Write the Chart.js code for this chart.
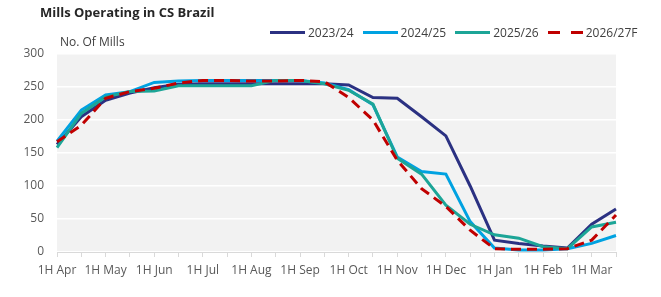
<!DOCTYPE html>
<html lang="en">

<head>
    <meta charset="UTF-8">
    <title>Mills Operating in CS Brazil</title>
    <style>
        body { margin: 0; background: #fff; font-family: "Open Sans", sans-serif; }
        #wrap { position: relative; width: 661px; height: 297px; }
        #titulo { position: absolute; left: 40px; top: 3px; font-size: 13px; font-weight: bold; color: #262626; }
        #unidad { position: absolute; left: 60px; top: 33px; font-size: 12px; color: #404040; }
        #leyenda { position: absolute; left: 270px; top: 24px; display: flex; font-size: 12px; color: #404040; }
        .item { display: flex; align-items: center; margin-right: 9px; }
        .linea { width: 35px; height: 3px; margin-right: 3px; }
    </style>
</head>

<body>
    <div id="wrap">
        <canvas id="grafico" width="661" height="297"></canvas>
        <div id="titulo">Mills Operating in CS Brazil</div>
        <div id="unidad">No. Of Mills</div>
        <div id="leyenda"></div>
    </div>

    <script src="https://cdn.jsdelivr.net/npm/chart.js"></script>
    <script>
        // quincenas: 1H / 2H de cada mes, abril a marzo
        let meses = ["Apr", "May", "Jun", "Jul", "Aug", "Sep", "Oct", "Nov", "Dec", "Jan", "Feb", "Mar"]
        let categorias = []
        meses.forEach(m => {
            categorias.push("1H " + m)
            categorias.push("2H " + m)
        })

        let zafra2324 = [163, 205, 230, 241, 249, 254, 255, 255, 255, 255, 255, 255, 253, 234, 233, 205, 176, 100, 18, 13, 9, 6, 42, 65]
        let zafra2425 = [168, 215, 238, 243, 257, 259, 260, 260, 260, 260, 260, 256, 246, 223, 144, 122, 118, 46, 6, 3, 3, 5, 13, 25]
        let zafra2526 = [158, 210, 235, 243, 244, 252, 252, 252, 252, 260, 260, 255, 245, 224, 142, 118, 71, 42, 26, 21, 8, 5, 38, 45]
        let zafra2627 = [167, 192, 233, 243, 248, 256, 260, 260, 259, 259, 260, 258, 234, 200, 139, 96, 69, 33, 5, 4, 4, 5, 18, 56]

        let ticksY = [0, 50, 100, 150, 200, 250, 300]

        let series = [
            { label: "2023/24", data: zafra2324, color: "#2b3182", dash: [], order: 4 },
            { label: "2024/25", data: zafra2425, color: "#00a2e1", dash: [], order: 3 },
            { label: "2025/26", data: zafra2526, color: "#1ca597", dash: [], order: 2 },
            { label: "2026/27F", data: zafra2627, color: "#c00000", dash: [10, 6], order: 1 }
        ]

        // leyenda en html
        let leyenda = document.querySelector("#leyenda")
        series.forEach(s => {
            let item = document.createElement("div")
            item.className = "item"
            let linea = document.createElement("span")
            linea.className = "linea"
            if (s.dash.length) {
                linea.style.background = "linear-gradient(to right, " + s.color + " 0 12px, transparent 12px 23px, " + s.color + " 23px 35px)"
            } else {
                linea.style.background = s.color
            }
            let texto = document.createElement("span")
            texto.textContent = s.label
            item.appendChild(linea)
            item.appendChild(texto)
            leyenda.appendChild(item)
        })

        let fondoGris = {
            id: "fondoGris",
            beforeDraw(chart) {
                let a = chart.chartArea
                chart.ctx.save()
                chart.ctx.fillStyle = "#f2f2f2"
                chart.ctx.fillRect(a.left, a.top, a.right - a.left, a.bottom - a.top)
                chart.ctx.restore()
            }
        }

        new Chart(document.querySelector("#grafico"), {
            type: "line",
            data: {
                labels: categorias,
                datasets: series.map(s => ({
                    label: s.label,
                    data: s.data,
                    borderColor: s.color,
                    backgroundColor: s.color,
                    borderWidth: 3,
                    borderDash: s.dash,
                    pointRadius: 0,
                    tension: 0,
                    order: s.order
                }))
            },
            options: {
                responsive: false,
                animation: false,
                layout: { padding: { top: 54, right: 45, bottom: 0, left: 0 } },
                plugins: { legend: { display: false }, tooltip: { enabled: false } },
                scales: {
                    x: {
                        afterFit: (scale) => { scale.height = 45 },
                        grid: { drawOnChartArea: false, color: "#d9d9d9", tickLength: 5 },
                        border: { color: "#d9d9d9" },
                        ticks: {
                            autoSkip: false,
                            maxRotation: 0,
                            padding: 6,
                            color: "#595959",
                            font: { family: "Open Sans", size: 12 },
                            callback: (v, i) => i % 2 == 0 ? categorias[i] : ""
                        }
                    },
                    y: {
                        min: 0,
                        max: 300,
                        afterFit: (scale) => { scale.width = 57 },
                        afterBuildTicks: (scale) => { scale.ticks = ticksY.map(v => ({ value: v })) },
                        grid: { color: "#ffffff", lineWidth: 1.5, drawTicks: false },
                        border: { display: false },
                        ticks: {
                            padding: 13,
                            color: "#595959",
                            font: { family: "Open Sans", size: 12 }
                        }
                    }
                }
            },
            plugins: [fondoGris]
        })
    </script>
</body>

</html>
